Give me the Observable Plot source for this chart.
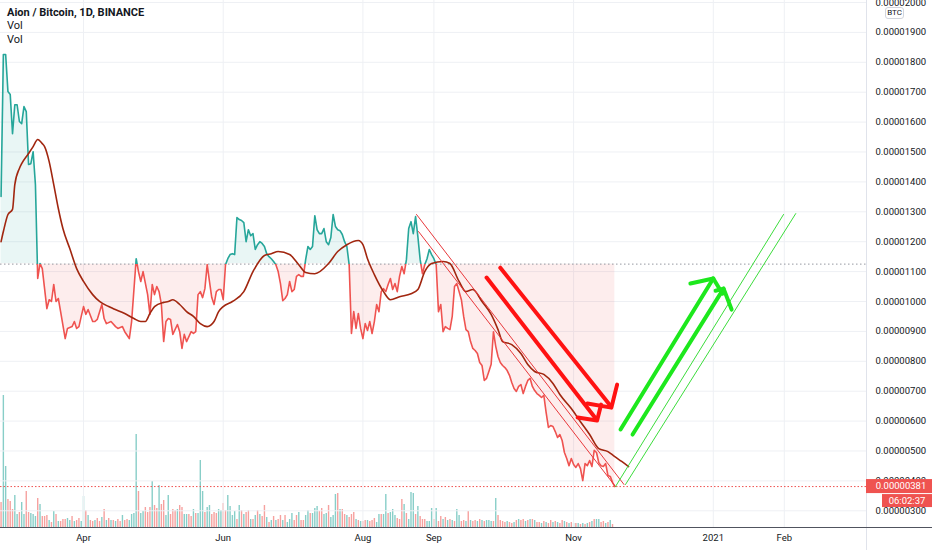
<!DOCTYPE html>
<html><head><meta charset="utf-8">
<script src="https://cdn.jsdelivr.net/npm/d3@7"></script>
<script src="https://cdn.jsdelivr.net/npm/@observablehq/plot@0.6"></script>
<style>
body{margin:0;background:#fff;font-family:Roboto,"Open Sans",sans-serif;}
#wrap{position:relative;width:932px;height:550px;overflow:hidden;background:#fff}
#wrap svg{position:absolute;left:0;top:0}
.lbl{position:absolute;color:#131722;font-size:11px;line-height:13px;white-space:nowrap}
#btc{position:absolute;left:885px;top:7px;width:17px;height:10px;border:1px solid #d1d4dc;border-radius:3px;background:#fff;color:#131722;font-size:8px;line-height:10px;text-align:center}
</style></head><body>
<div id="wrap">
  <div id="vol"></div>
  <div id="price"></div>
  <div class="lbl" style="left:7px;top:6px;font-weight:700">Aion / Bitcoin, 1D, BINANCE</div>
  <div class="lbl" style="left:7px;top:19px">Vol</div>
  <div class="lbl" style="left:7px;top:33px">Vol</div>
  <div id="btc">BTC</div>
</div>
<script>
// ---------- DATA (prices in satoshis, 1 sat = 0.00000001 BTC) ----------
const priceSeries = [
["02-25",1351],["02-26",1826],["02-27",1826],["02-28",1702],["02-29",1692],["03-01",1561],["03-02",1658],["03-03",1658],
["03-04",1602],["03-05",1595],["03-06",1652],["03-07",1635],["03-08",1458],["03-09",1461],["03-10",1501],["03-11",1391],
["03-12",1077],["03-13",1127],["03-14",1110],["03-15",1043],["03-16",976],["03-17",1006],["03-18",1000],["03-19",1057],
["03-20",1000],["03-21",1010],["03-22",966],["03-24",876],["03-25",910],["03-27",916],["03-28",933],["03-29",910],
["03-30",916],["03-31",950],["04-01",983],["04-02",957],["04-03",973],["04-05",933],["04-06",933],["04-07",940],
["04-09",990],["04-10",943],["04-11",926],["04-13",933],["04-15",916],["04-16",910],["04-18",916],["04-19",899],
["04-21",876],["04-22",933],["04-24",1143],["04-25",1100],["04-26",1067],["04-27",1100],["04-29",1023],["04-30",957],
["05-01",1057],["05-02",1023],["05-03",1050],["05-04",1033],["05-05",990],["05-06",866],["05-07",933],["05-08",943],
["05-09",940],["05-10",890],["05-12",923],["05-13",899],["05-14",843],["05-15",890],["05-16",866],["05-18",899],
["05-19",893],["05-20",899],["05-21",1023],["05-22",1033],["05-23",1013],["05-24",1043],["05-25",1123],["05-26",1067],
["05-27",1013],["05-28",990],["05-29",1033],["05-30",1040],["05-31",1040],["06-01",1006],["06-02",1123],["06-03",1143],
["06-04",1157],["06-05",1160],["06-06",1157],["06-07",1281],["06-08",1274],["06-09",1271],["06-10",1264],["06-11",1200],
["06-12",1240],["06-13",1220],["06-14",1227],["06-15",1174],["06-16",1190],["06-17",1200],["06-18",1194],["06-19",1184],
["06-20",1160],["06-21",1150],["06-22",1143],["06-23",1134],["06-24",1123],["06-25",1100],["06-26",1060],["06-27",1003],
["06-28",1010],["06-29",1023],["06-30",1067],["07-01",1033],["07-02",1040],["07-03",1084],["07-04",1090],["07-05",1084],
["07-06",1084],["07-07",1140],["07-08",1184],["07-09",1174],["07-10",1184],["07-11",1287],["07-12",1240],["07-13",1227],
["07-14",1227],["07-15",1244],["07-16",1200],["07-17",1190],["07-18",1214],["07-19",1291],["07-20",1251],["07-21",1240],
["07-22",1237],["07-23",1224],["07-24",1200],["07-25",1184],["07-26",1123],["07-27",893],["07-28",966],["07-29",910],
["07-30",960],["07-31",910],["08-01",876],["08-02",926],["08-03",903],["08-04",933],["08-05",893],["08-06",933],
["08-07",990],["08-08",966],["08-09",1033],["08-10",1043],["08-11",1033],["08-12",1057],["08-13",1077],["08-14",1040],
["08-15",1060],["08-16",1033],["08-17",1084],["08-18",1117],["08-19",1093],["08-20",1140],["08-21",1244],["08-22",1267],
["08-23",1227],["08-24",1284],["08-25",1217],["08-26",1140],["08-27",1093],["08-28",1123],["08-29",1143],["08-30",1174],
["08-31",1157],["09-01",1143],["09-02",1123],["09-03",966],["09-04",990],["09-05",899],["09-06",916],["09-07",910],
["09-08",906],["09-09",950],["09-10",1050],["09-11",1060],["09-12",1033],["09-13",1006],["09-14",950],["09-15",906],
["09-16",899],["09-17",866],["09-18",843],["09-19",836],["09-20",826],["09-21",796],["09-22",786],["09-23",736],
["09-24",743],["09-25",766],["09-26",790],["09-27",899],["09-28",850],["09-29",816],["09-30",796],["10-01",786],
["10-02",779],["10-03",769],["10-04",753],["10-05",729],["10-06",709],["10-07",699],["10-08",716],["10-09",722],
["10-10",692],["10-11",716],["10-12",736],["10-13",743],["10-14",716],["10-15",702],["10-16",692],["10-17",686],
["10-18",679],["10-19",686],["10-20",629],["10-21",579],["10-22",585],["10-23",582],["10-24",565],["10-25",545],
["10-26",555],["10-27",535],["10-28",495],["10-29",475],["10-30",451],["10-31",475],["11-01",455],["11-02",445],
["11-03",458],["11-04",441],["11-05",401],["11-06",458],["11-07",451],["11-08",468],["11-09",448],["11-10",502],
["11-11",495],["11-12",461],["11-13",451],["11-14",448],["11-15",458],["11-16",418],["11-17",415],["11-18",395],
["11-19",381]
];
const maSeries = [
["2020-02-25",1200],["2020-02-26",1234],["2020-02-28",1291],["2020-03-01",1308],["2020-03-02",1391],["2020-03-04",1445],
["2020-03-05",1461],["2020-03-08",1495],["2020-03-10",1518],["2020-03-12",1542],["2020-03-14",1528],["2020-03-15",1518],
["2020-03-17",1468],["2020-03-19",1391],["2020-03-21",1311],["2020-03-23",1244],["2020-03-26",1177],["2020-03-29",1110],
["2020-04-01",1067],["2020-04-05",1023],["2020-04-08",1000],["2020-04-12",983],["2020-04-14",976],["2020-04-19",960],
["2020-04-23",943],["2020-04-26",933],["2020-04-28",933],["2020-04-30",960],["2020-05-02",983],["2020-05-06",997],
["2020-05-08",1000],["2020-05-10",1006],["2020-05-13",990],["2020-05-16",966],["2020-05-19",950],["2020-05-22",926],
["2020-05-25",916],["2020-05-28",933],["2020-05-30",966],["2020-06-01",983],["2020-06-05",1000],["2020-06-10",1033],
["2020-06-14",1100],["2020-06-19",1154],["2020-06-22",1160],["2020-06-25",1167],["2020-06-30",1157],["2020-07-04",1123],
["2020-07-07",1097],["2020-07-11",1093],["2020-07-17",1127],["2020-07-21",1167],["2020-07-25",1190],["2020-07-30",1204],
["2020-08-01",1190],["2020-08-03",1143],["2020-08-06",1090],["2020-08-10",1033],["2020-08-13",1006],["2020-08-17",1016],
["2020-08-22",1026],["2020-08-25",1040],["2020-08-28",1100],["2020-08-31",1127],["2020-09-05",1134],["2020-09-08",1127],
["2020-09-12",1067],["2020-09-15",1033],["2020-09-18",1040],["2020-09-22",1000],["2020-09-26",957],["2020-09-29",906],
["2020-10-01",866],["2020-10-05",856],["2020-10-09",826],["2020-10-12",789],["2020-10-15",766],["2020-10-19",756],
["2020-10-23",726],["2020-10-26",689],["2020-10-31",642],["2020-11-04",598],["2020-11-08",555],["2020-11-12",508],
["2020-11-16",498],["2020-11-19",481],["2020-11-22",465],["2020-11-25",448]
];
// daily volume bars, first bar on volStart (relative units)
const volStart = "2020-02-25";
const volumes = [
25,132,61,28,26,18,32,13,15,25,13,36,15,14,13,11,29,23,11,11,12,7,5,16,13,6,6,8,8,9,7,11,6,7,9,6,31,17,12,7,6,7,9,6,10,18,7,9,7,7,6,8,6,12,7,8,7,13,14,93,36,14,16,20,15,20,46,22,19,42,23,27,12,32,13,18,17,18,22,20,13,13,13,11,18,14,14,67,36,15,20,22,13,
15,14,18,17,24,17,32,21,12,16,8,22,17,13,15,17,8,8,12,17,13,11,22,10,5,7,11,7,8,12,7,12,5,8,14,7,12,15,7,7,12,17,14,14,19,21,16,19,13,14,22,10,12,33,34,18,18,13,12,10,13,15,8,7,6,6,7,7,6,7,9,5,13,13,13,33,14,15,18,12,9,8,28,23,14,8,35,34,13,
21,11,8,8,6,6,19,8,19,6,11,8,10,7,8,7,6,18,12,6,7,6,16,7,6,7,6,8,7,6,7,7,6,6,29,12,7,6,5,6,5,4,5,7,8,7,8,6,7,8,8,7,5,5,4,6,5,4,7,5,6,5,4,7,6,5,4,5,4,4,4,3,4,3,4,5,6,8,8,8,5,6,4,5,7,3
];
// u = up day (teal), d = down day (red)
const volDirs = [
"duuddduudu","udduuududd","dudududddu","ududduudud","duddududud","uddudduuuu","duuddduddu","dduudddudd","uudduduuud","uud",
"dduuddu","uuudududdu","dududdudud","udduduuudd","udduuduuud","duuduuudud","dudddududd","uddduuduud","uuuddduduu","ud",
"uddduuudud","dudududuud","dududdudud","uuududdddu","ddududdudu","duddududdu","duddududud","ududududuu","ddudud"
].join("");
const baselineSats = 1125;
const lastSats = 381;
const countdown = "06:02:37";
const yTickSats = [300,400,500,600,700,800,900,1000,1100,1200,1300,1400,1500,1600,1700,1800,1900,2000];
const xTickDates = ["2020-04-01","2020-06-01","2020-08-01","2020-09-01","2020-11-01","2021-01-01","2021-02-01"];
const xTickLabels = ["Apr","Jun","Aug","Sep","Nov","2021","Feb"];
// hand drawings: [id, date, sats]
const redChannel = [
["c1","2020-08-24T10:00",1291],["c1","2020-11-23T00:00",388],
["c2","2020-08-25T07:00",1234],["c2","2020-11-19T07:00",381]
];
const redArrows = [
["r1","2020-09-30T00:00",1113],["r1","2020-11-17T00:00",652],
["r1h","2020-11-07T00:00",659],["r1h","2020-11-17T12:00",645],["r1h","2020-11-20T00:00",722],
["r2","2020-09-24T00:00",1080],["r2","2020-11-11T00:00",605],
["r2h","2020-11-02T18:00",612],["r2h","2020-11-11T06:00",602],["r2h","2020-11-13T00:00",655]
];
const greenChannel = [
["g1","2020-11-19T07:00",381],["g1","2021-01-31T16:00",1291],
["g2","2020-11-23T16:00",388],["g2","2021-02-06T00:00",1294]
];
const greenArrows = [
["a1","2020-11-21T12:00",572],["a1","2021-01-01T00:00",1077],
["a1h","2020-12-22T00:00",1060],["a1h","2021-01-01T00:00",1077],["a1h","2021-01-05T00:00",1026],
["a2","2020-11-26T18:00",555],["a2","2021-01-05T12:00",1043],
["a2h","2021-01-02T00:00",1036],["a2h","2021-01-05T12:00",1043],["a2h","2021-01-09T00:00",973]
];

// ---------- BUILD ----------
const W = 932, H = 550, mR = 66, mB = 23;
const D = s => new Date(s.length === 10 ? s + "T00:00:00Z" : s + ":00Z");
const xDomain = [D("2020-02-24T18:00"), D("2021-03-08T21:36")];
const yDomain = [244.1, 2006.7];
const fmt = v => "0." + String(Math.round(v)).padStart(8, "0");
const price = priceSeries.map(([md, v]) => ({date: D("2020-" + md), v}));
const ma = maSeries.map(([d, v]) => ({date: D(d), v}));
const vol = volumes.map((v, i) => ({date: d3.utcDay.offset(D(volStart), i), v, up: volDirs[i] === "u"}));
const draw = () => ({x: d => D(d[1]), y: d => d[2], z: d => d[0]});

const volChart = Plot.plot({
  width: W, height: H, marginLeft: 0, marginRight: mR, marginTop: 0, marginBottom: mB,
  style: {background: "transparent"},
  x: {type: "utc", domain: xDomain, axis: null},
  y: {domain: [0, 527], axis: null},
  marks: [
    Plot.ruleX(vol.filter(d => d.up), {x: "date", y1: 0, y2: "v", stroke: "#26a69a", strokeOpacity: 0.55, strokeWidth: 1.4}),
    Plot.ruleX(vol.filter(d => !d.up), {x: "date", y1: 0, y2: "v", stroke: "#ef5350", strokeOpacity: 0.55, strokeWidth: 1.4})
  ]
});
document.getElementById("vol").appendChild(volChart);

const chart = Plot.plot({
  width: W, height: H, marginLeft: 0, marginRight: mR, marginTop: 0, marginBottom: mB,
  style: {background: "transparent", fontFamily: "Roboto, sans-serif", fontSize: "9.5px", color: "#131722"},
  x: {type: "utc", domain: xDomain, ticks: xTickDates.map(D), tickSize: 0, tickPadding: 7, label: null,
      tickFormat: d => xTickLabels[xTickDates.indexOf(d.toISOString().slice(0, 10))]},
  y: {domain: yDomain, axis: "right", ticks: yTickSats, tickSize: 0, tickPadding: 9, label: null, tickFormat: fmt},
  marks: [
    Plot.ruleY(yTickSats, {stroke: "#eef0f4"}),
    Plot.ruleX(xTickDates.map(D), {stroke: "#eef0f4"}),
    Plot.areaY(price, {x: "date", y1: baselineSats, y2: "v", fill: "#26a69a", fillOpacity: 0.1}),
    Plot.areaY(price, {x: "date", y1: baselineSats, y2: "v", fill: "#ef5350", fillOpacity: 0.1}),
    Plot.ruleY([baselineSats], {stroke: "#9598a1", strokeDasharray: "1.5,2.5"}),
    Plot.ruleY([lastSats], {stroke: "#ef5350", strokeDasharray: "1.5,2"}),
    Plot.line(price, {x: "date", y: "v", stroke: "#26a69a", strokeWidth: 1.6}),
    Plot.line(price, {x: "date", y: "v", stroke: "#ef5350", strokeWidth: 1.6}),
    Plot.line(ma, {x: "date", y: "v", stroke: "#a1260f", strokeWidth: 1.6, curve: "monotone-x"}),
    Plot.line(redChannel, {...draw(), stroke: "#e8383b", strokeWidth: 1}),
    Plot.line(redArrows, {...draw(), stroke: "#ff1212", strokeWidth: 4, strokeLinecap: "round", strokeLinejoin: "round"}),
    Plot.line(greenChannel, {...draw(), stroke: "#3cdc3c", strokeWidth: 1}),
    Plot.line(greenArrows, {...draw(), stroke: "#1de81d", strokeWidth: 4, strokeLinecap: "round", strokeLinejoin: "round"})
  ]
});
document.getElementById("price").appendChild(chart);

// baseline clipping (teal above, red below) and price-scale chrome
const svg = d3.select(chart);
const ys = chart.scale("y"), xs = chart.scale("x");
const by = ys.apply(baselineSats);
const xEnd = xs.range[1];
const yBot = ys.range[0];
const defs = svg.insert("defs", ":first-child");
defs.append("clipPath").attr("id", "cUp").append("rect").attr("x", -5).attr("y", -5).attr("width", xEnd + 10).attr("height", by + 5);
defs.append("clipPath").attr("id", "cDn").append("rect").attr("x", -5).attr("y", by).attr("width", xEnd + 10).attr("height", H);
const areas = chart.querySelectorAll('g[aria-label="area"]');
areas[0].setAttribute("clip-path", "url(#cUp)");
areas[1].setAttribute("clip-path", "url(#cDn)");
const lines = chart.querySelectorAll('g[aria-label="line"]');
lines[0].setAttribute("clip-path", "url(#cUp)");
lines[1].setAttribute("clip-path", "url(#cDn)");

svg.append("line").attr("x1", xEnd + 0.5).attr("x2", xEnd + 0.5).attr("y1", 0).attr("y2", H).attr("stroke", "#e0e3eb");
svg.append("line").attr("x1", 0).attr("x2", W).attr("y1", yBot + 0.5).attr("y2", yBot + 0.5).attr("stroke", "#50535e");

const ly = ys.apply(lastSats);
const g = svg.append("g").attr("font-size", "9.5px").attr("font-family", "Roboto, sans-serif");
g.append("rect").attr("x", xEnd).attr("y", ly - 7).attr("width", W - xEnd).attr("height", 14).attr("fill", "#ef5350");
g.append("text").attr("x", (xEnd + W) / 2 + 2).attr("y", ly).attr("dy", "0.35em").attr("text-anchor", "middle").attr("fill", "#fff").text(fmt(lastSats));
g.append("rect").attr("x", W - 50).attr("y", ly + 8).attr("width", 50).attr("height", 13).attr("fill", "#ef5350");
g.append("text").attr("x", W - 25).attr("y", ly + 14.5).attr("dy", "0.35em").attr("text-anchor", "middle").attr("fill", "#fff").text(countdown);
</script>
</body></html>
